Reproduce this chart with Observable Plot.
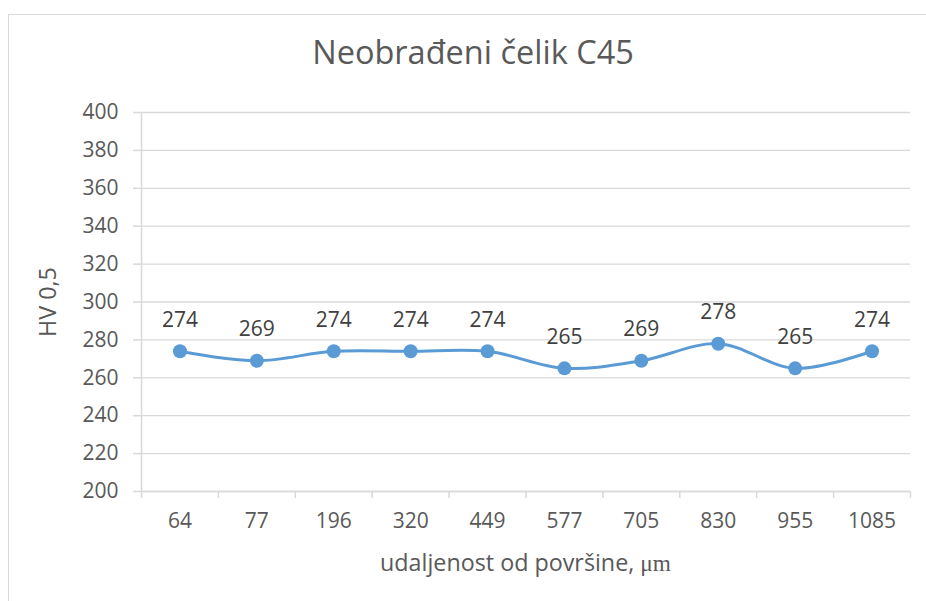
<!DOCTYPE html>
<html>
<head>
<meta charset="utf-8">
<script src="https://cdn.jsdelivr.net/npm/d3@7"></script>
<script src="https://cdn.jsdelivr.net/npm/@observablehq/plot@0.6"></script>
<style>
  html, body { margin: 0; padding: 0; background: #fff; overflow: hidden; }
  body { width: 926px; height: 601px; position: relative; font-family: "Open Sans", sans-serif; }
  #frame { position: absolute; left: 8px; top: 14px; width: 940px; height: 600px;
           border-left: 1.5px solid #d9d9d9; border-top: 1.5px solid #d9d9d9; }
  #title { position: absolute; left: 8px; width: 930px; top: 32px; text-align: center;
           font-size: 32.5px; color: #595959; line-height: 40px; }
  #chart { position: absolute; left: 0; top: 90px; }
  #caption { position: absolute; left: 141px; width: 769px; top: 548px; text-align: center;
             font-size: 23.3px; color: #595959; line-height: 28px; white-space: nowrap; }
  #caption .unit { font-family: "Liberation Serif", "DejaVu Serif", serif; }
</style>
</head>
<body>
<div id="frame"></div>
<div id="title">Neobrađeni čelik C45</div>
<div id="chart"></div>
<div id="caption">udaljenost od površine, <span class="unit">μm</span></div>
<script>
const categories = ["64", "77", "196", "320", "449", "577", "705", "830", "955", "1085"];
const hardness = [274, 269, 274, 274, 274, 265, 269, 278, 265, 274];
const yTicks = [200, 220, 240, 260, 280, 300, 320, 340, 360, 380, 400];

const data = categories.map((c, i) => ({ i: i + 0.5, cat: c, v: hardness[i] }));
const boundaries = d3.range(categories.length + 1);
const centers = d3.range(categories.length).map(i => i + 0.5);

const grey = "#595959";
const lineGrey = "#d9d9d9";
const blue = "#5B9BD5";

const chart = Plot.plot({
  width: 926,
  height: 455,
  marginTop: 22,
  marginBottom: 54,
  marginLeft: 141,
  marginRight: 16,
  style: { fontFamily: "Open Sans, sans-serif", fontSize: "21px", color: grey, background: "transparent" },
  x: { type: "linear", domain: [0, categories.length] },
  y: { domain: [200, 400] },
  marks: [
    Plot.gridY(yTicks, { stroke: lineGrey, strokeOpacity: 1, strokeWidth: 1.3 }),
    Plot.ruleX([0], { stroke: lineGrey, strokeWidth: 1.5 }),
    Plot.ruleY([200], { stroke: lineGrey, strokeWidth: 1.5 }),
    Plot.axisY(yTicks, {
      tickSize: 8, tickPadding: 15, stroke: lineGrey, strokeOpacity: 1, strokeWidth: 1.5,
      fill: grey, fontSize: 21, label: null
    }),
    Plot.axisY({
      ticks: [], tickSize: 0, fill: grey, fontSize: 23.3,
      label: "HV 0,5", labelAnchor: "center", labelArrow: false, labelOffset: 102
    }),
    Plot.axisX(boundaries, {
      tickSize: 7, tickFormat: () => "", stroke: lineGrey, strokeOpacity: 1, strokeWidth: 1.5, label: null
    }),
    Plot.axisX(centers, {
      tickSize: 0, tickPadding: 22, tickFormat: d => categories[Math.floor(d)],
      fill: grey, fontSize: 21, label: null
    }),
    Plot.line(data, { x: "i", y: "v", stroke: blue, strokeWidth: 3, curve: "catmull-rom" }),
    Plot.dot(data, { x: "i", y: "v", r: 7, fill: blue, stroke: blue, strokeWidth: 0 }),
    Plot.text(data, { x: "i", y: "v", text: d => String(d.v), dy: -31, fill: "#404040", fontSize: 21 })
  ]
});
document.getElementById("chart").appendChild(chart);
</script>
</body>
</html>
